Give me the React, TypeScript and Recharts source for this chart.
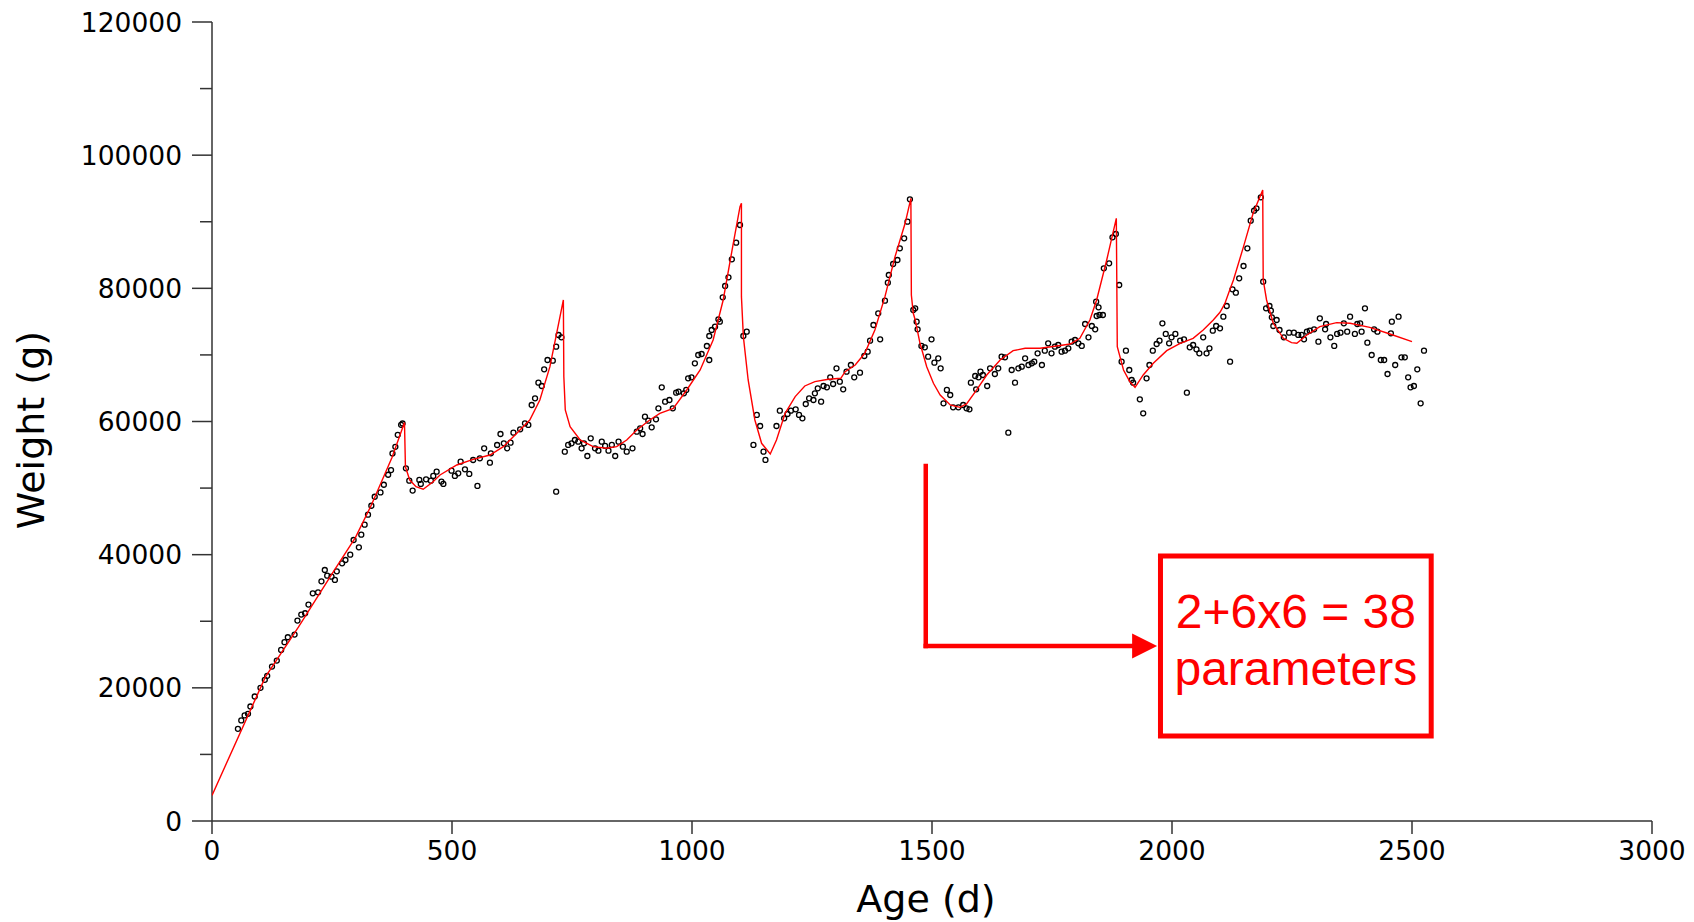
import React from 'react';
import {
  ScatterChart,
  Scatter,
  XAxis,
  YAxis,
  ReferenceLine,
  ReferenceArea,
  ReferenceDot,
} from 'recharts';

// ---------- Observed weights (open circles) ----------
const obsAge: number[] = [
  54, 61, 68, 75, 80, 89, 101, 110, 115, 125, 135, 144, 151, 158, 172, 178, 186, 194, 201, 210,
  221, 228, 235, 240, 249, 256, 260, 271, 278, 288, 295, 306, 311, 318, 325, 332, 339, 351, 358, 367,
  373, 376, 382, 387, 394, 397,
  404, 411, 418, 432, 435, 446, 456, 461, 468, 478, 482, 499, 506, 513, 518, 527, 536, 544, 553, 558,
  567, 579, 581, 594, 601, 608, 615, 622, 628, 642, 652, 659, 666, 673, 680, 687, 692, 699, 710, 717,
  722, 728, 717,
  735, 742, 749, 756, 763, 770, 775, 782, 789, 798, 805, 812, 819, 826, 833, 840, 847, 856, 864, 876,
  885, 892, 897, 902, 909, 916, 925, 930, 937, 944, 953, 960, 967, 972, 983, 988, 992, 999, 1006, 1013,
  1020, 1031, 1036, 1036, 1041, 1048, 1055, 1058, 1064, 1069, 1076, 1083, 1092, 1100,
  1107, 1114, 1128, 1135, 1142, 1149, 1153, 1176, 1183, 1192, 1199, 1206, 1216, 1223, 1230, 1237, 1244, 1253, 1256, 1262,
  1269, 1274, 1281, 1288, 1294, 1301, 1308, 1315, 1322, 1331, 1338, 1350, 1359, 1366, 1371, 1378, 1388, 1392, 1402, 1408,
  1410, 1419, 1428, 1433, 1442, 1449, 1454, 1461, 1465, 1468, 1470, 1478, 1485, 1492, 1499, 1505,
  1513, 1518, 1524, 1531, 1538, 1544, 1555, 1565, 1572, 1578, 1581, 1590, 1592, 1597, 1601, 1606, 1615, 1621, 1631, 1638,
  1645, 1652, 1659, 1666, 1673, 1680, 1687, 1694, 1701, 1708, 1713, 1720, 1729, 1735, 1742, 1749, 1756, 1763, 1770, 1777,
  1784, 1791, 1798, 1805, 1812, 1819, 1826, 1833, 1840, 1842, 1843, 1847, 1849, 1856, 1858, 1869, 1876, 1883,
  1890, 1895, 1904, 1911, 1916, 1919, 1933, 1940, 1947, 1953, 1960, 1968, 1974, 1980, 1987, 1994, 1999, 2007, 2017, 2025,
  2031, 2037, 2044, 2051, 2057, 2065, 2072, 2078, 2085, 2092, 2100, 2107, 2114, 2121, 2126, 2133, 2140, 2149, 2157, 2164,
  2171, 2176, 2185, 2190, 2196, 2203, 2206, 2208, 2211, 2218, 2224, 2233, 2244, 2254, 2263, 2270, 2275, 2281, 2287, 2296,
  2305, 2308, 2319, 2321, 2330, 2338, 2344, 2351, 2358, 2365, 2371, 2381, 2386, 2392, 2395, 2402, 2407, 2416, 2421, 2428,
  2435, 2442, 2449, 2456, 2458, 2465, 2472, 2478, 2485, 2492, 2497, 2504, 2511, 2518, 2525,
];

const obsWeight: number[] = [
  13850, 15100, 15850, 16100, 17200, 18700, 20000, 21200, 21800, 23200, 24100, 25700, 26850, 27600, 28000, 30100, 31000, 31200, 32500, 34200,
  34350, 36000, 37700, 36850, 36700, 36200, 37500, 38700, 39200, 40000, 42200, 41100, 43000, 44500, 46000, 47350, 48700, 49350, 50500, 52000,
  52700, 55200, 56200, 58000, 59500, 59700,
  52970, 51120, 49620, 51220, 50620, 51320, 51120, 51820, 52470, 50970, 50620, 52620, 51820, 52220, 53970, 52820, 52120, 54220, 50320, 54470,
  55970, 53820, 55220, 56470, 58120, 56720, 55970, 56820, 58320, 58830, 59730, 59480, 62480, 63480, 65830, 65330, 67840, 69240, 69140, 71240,
  72990, 72640, 49460,
  55470, 56475, 56725, 57225, 56975, 55975, 56725, 54820, 57475, 55975, 55620, 56975, 56325, 55620, 56475, 54820, 56975, 56225, 55470, 55970,
  58475, 58975, 58125, 60730, 60130, 59125, 60330, 61980, 65135, 62980, 63230, 61980, 64335, 64485, 64235, 64735, 66485, 66635, 68740, 69990,
  70140, 71340, 69240, 72844, 73745, 74245, 75345, 74995, 78650, 80352, 81655, 84360, 86860, 89515,
  72844, 73494, 56475, 60980, 59327, 55474, 54222, 59327, 61630, 60480, 61130, 61630, 61830, 60980, 60480, 62630, 63480, 63230, 64235, 64985,
  62980, 65335, 65135, 66635, 65635, 67987, 65985, 64835, 67487, 68488, 66635, 67337, 69840, 70490, 72144, 74496, 76248, 72344, 78150, 80854,
  82004, 83657, 84257, 86010, 87511, 90015, 93368, 76749, 76999, 74997, 73845, 71343, 71143, 69741, 72344, 68840,
  69490, 67987, 62730, 64735, 63982, 62130, 62130, 62480, 61980, 61830, 65835, 66836, 64835, 66636, 67487, 66986, 65335, 67987, 67136, 67987,
  69740, 69640, 58326, 67737, 65835, 67987, 68238, 69490, 68488, 68738, 68988, 70240, 68488, 70640, 71743, 70240, 71243, 71493, 70490, 70640,
  70991, 71993, 72243, 71743, 71343, 74646, 72644, 74346, 73845, 77999, 75847, 77148, 75997, 75997, 83006, 83757, 87661, 88162,
  80503, 68990, 70640, 67737, 66236, 65835, 63330, 61230, 66486, 68488, 70640, 71643, 72144, 74747, 73146, 71743, 72644, 73146, 72144, 72344,
  64335, 71143, 71493, 70841, 70240, 72644, 70240, 70991, 73645, 74346, 73995, 75748, 77349, 68989, 79852, 79352, 81505, 83357, 86010, 90165,
  91667, 92017, 93669, 81004, 76999, 77349, 76649, 75647, 74346, 75246, 73745, 72644, 73345, 73345, 72995, 72995, 72344, 73495, 73645, 73845,
  71993, 75497, 73845, 74646, 72644, 71343, 73146, 73345, 74747, 73495, 75748, 73146, 74646, 74747, 73495, 76999, 71843, 69990, 73845, 73495,
  69239, 69239, 67137, 73245, 74997, 68488, 75748, 69640, 69640, 66637, 65135, 65335, 67838, 62731, 70641,
];

// ---------- Fitted model curve (red) ----------
const fitAge: number[] = [
  0, 111, 180, 250, 299, 333, 375, 401, 403, 412, 425, 440, 460, 475, 510, 544, 579, 607, 635, 662,
  683, 704, 718, 732, 733, 736, 746, 767, 794, 822, 843, 864, 885, 912, 933, 961, 989, 1017, 1044, 1065,
  1086, 1100, 1103, 1103, 1107, 1117, 1131, 1145, 1163, 1176, 1194, 1215, 1235, 1256, 1284, 1310, 1319, 1340, 1360, 1381,
  1402, 1423, 1444, 1456, 1457, 1461, 1465, 1475, 1489, 1503, 1517, 1538, 1558, 1572, 1593, 1614, 1642, 1669, 1694, 1725,
  1760, 1788, 1808, 1829, 1843, 1864, 1884, 1886, 1899, 1912, 1923, 1940, 1961, 1989, 2017, 2044, 2065, 2086, 2100, 2110,
  2118, 2128, 2149, 2169, 2189, 2190, 2197, 2211, 2232, 2249, 2260, 2281, 2308, 2343, 2371, 2412, 2454, 2500,
];

const fitWeight: number[] = [
  3850, 21600, 29100, 37100, 42600, 47600, 54600, 59850, 53200, 51200, 50200, 49820, 50900, 51970, 53470, 54320, 54970, 56220, 58220, 60230,
  63230, 68240, 73240, 78250, 66730, 61730, 59230, 57225, 56225, 55975, 56225, 57225, 58730, 60230, 61230, 61980, 64735, 67735, 72245, 78250,
  86760, 92267, 92768, 78750, 72745, 66236, 60228, 56725, 55124, 57225, 61230, 63733, 65335, 65986, 66336, 66486, 67487, 68488, 70240, 73745,
  78750, 84758, 89764, 93519, 79000, 76249, 75247, 71743, 68238, 65735, 63982, 62480, 62130, 62630, 64735, 66986, 69240, 70640, 70991, 70991,
  71341, 71641, 72495, 75247, 78250, 84258, 90515, 71242, 67737, 65986, 65135, 66987, 68740, 70641, 71743, 72494, 73745, 75247, 76400, 77700,
  79300, 81254, 86260, 91266, 94770, 81254, 78250, 74746, 72494, 71843, 71743, 72995, 74246, 74846, 74746, 74146, 73145, 71993,
];

// ---------- Axis ticks ----------
const xTicks: number[] = [0, 500, 1000, 1500, 2000, 2500, 3000];
const yTicks: number[] = [0, 10000, 20000, 30000, 40000, 50000, 60000, 70000, 80000, 90000, 100000, 110000, 120000];
const yLabelStep = 20000;

// ---------- Annotation ----------
const annotationLines: string[] = ['2+6x6 = 38', 'parameters'];
const arrowStart = { x: 1487, y: 53300 };
const arrowCorner = { x: 1487, y: 26283 };
const arrowTip = { x: 1969, y: 26283 };
const box = { x1: 1976, x2: 2540, y1: 12766, y2: 39800 };

const obsData = obsAge.map((a, i) => ({ age: a, w: obsWeight[i] }));
const fitData = fitAge.map((a, i) => ({ age: a, w: fitWeight[i] }));

const RED = '#ff0000';
const AXIS = '#333333';
const TICK_FONT = '"DejaVu Sans", Verdana, sans-serif';
const Y_TICK_SIZE = 20;
const Y_TICK_MARGIN = 10;
const ARROW_LEN = 25;
const ARROW_HALF = 12.5;

const YTick = (props: any) => {
  const { x, y, payload } = props;
  const axisX = x + Y_TICK_SIZE + Y_TICK_MARGIN;
  const major = payload.value % yLabelStep === 0;
  const len = major ? Y_TICK_SIZE : 12;
  return (
    <g>
      <line x1={axisX - len} x2={axisX} y1={y} y2={y} stroke={AXIS} strokeWidth={1.5} />
      {major && (
        <text x={x} y={y} dy="0.36em" textAnchor="end" fontFamily={TICK_FONT} fontSize={26.5} fill="#000">
          {payload.value}
        </text>
      )}
    </g>
  );
};

const XTick = (props: any) => {
  const { x, y, payload } = props;
  return (
    <text x={x} y={y} dy="0.74em" textAnchor="middle" fontFamily={TICK_FONT} fontSize={26.5} fill="#000">
      {payload.value}
    </text>
  );
};

const Circle = (props: any) => (
  <circle cx={props.cx} cy={props.cy} r={2.5} fill="none" stroke="#000" strokeWidth={1.3} />
);

const NoShape = () => <g />;

const Arrowhead = (props: any) => {
  const { cx, cy } = props;
  return (
    <polygon
      points={`${cx},${cy} ${cx - ARROW_LEN},${cy - ARROW_HALF} ${cx - ARROW_LEN},${cy + ARROW_HALF}`}
      fill={RED}
    />
  );
};

const BoxText = (props: any) => {
  const vb = props.viewBox || {};
  const cx = vb.x + vb.width / 2;
  return (
    <g>
      <text x={cx} y={vb.y + 72} textAnchor="middle" fontFamily='"Liberation Sans", Arial, sans-serif' fontSize={48} fill={RED}>
        {annotationLines[0]}
      </text>
      <text x={cx} y={vb.y + 129} textAnchor="middle" fontFamily='"Liberation Sans", Arial, sans-serif' fontSize={48} fill={RED}>
        {annotationLines[1]}
      </text>
    </g>
  );
};

const XTitle = (props: any) => {
  const vb = props.viewBox || {};
  return (
    <text x={vb.x + vb.width / 2 - 6} y={vb.y + 91} textAnchor="middle" fontFamily={TICK_FONT} fontSize={38} fill="#000">
      Age (d)
    </text>
  );
};

const YTitle = (props: any) => {
  const vb = props.viewBox || {};
  const cy = vb.y + vb.height / 2 + 8.5;
  const tx = 44;
  return (
    <text
      x={tx}
      y={cy}
      textAnchor="middle"
      transform={`rotate(-90, ${tx}, ${cy})`}
      fontFamily={TICK_FONT}
      fontSize={38}
      fill="#000"
    >
      Weight (g)
    </text>
  );
};

export default function App() {
  return (
    <div style={{ position: 'absolute', left: 0, top: 0, width: 1694, height: 922, background: '#fff' }}>
      <ScatterChart width={1694} height={922} margin={{ top: 22, right: 42, bottom: 0, left: 0 }}>
        <XAxis
          type="number"
          dataKey="age"
          domain={[0, 3000]}
          ticks={xTicks}
          interval={0}
          height={101}
          stroke={AXIS}
          strokeWidth={1.5}
          tickSize={13}
          tickMargin={6}
          tick={<XTick />}
          label={{ content: (p: any) => <XTitle {...p} /> }}
          allowDataOverflow
        />
        <YAxis
          type="number"
          dataKey="w"
          domain={[0, 120000]}
          ticks={yTicks}
          interval={0}
          width={212}
          stroke={AXIS}
          strokeWidth={1.5}
          tickLine={false}
          tickSize={Y_TICK_SIZE}
          tickMargin={Y_TICK_MARGIN}
          tick={<YTick />}
          label={{ content: (p: any) => <YTitle {...p} /> }}
          allowDataOverflow
        />
        <Scatter data={obsData} shape={<Circle />} isAnimationActive={false} />
        <Scatter
          data={fitData}
          shape={<NoShape />}
          line={{ stroke: RED, strokeWidth: 1.4 }}
          lineType="joint"
          isAnimationActive={false}
        />
        <ReferenceLine
          segment={[arrowStart, arrowCorner]}
          stroke={RED}
          strokeWidth={4.5}
          strokeLinecap="square"
        />
        <ReferenceLine
          segment={[arrowCorner, { x: arrowTip.x - 50, y: arrowTip.y }]}
          stroke={RED}
          strokeWidth={4.5}
          strokeLinecap="square"
        />
        <ReferenceDot x={arrowTip.x} y={arrowTip.y} r={10} shape={<Arrowhead />} />
        <ReferenceArea
          x1={box.x1}
          x2={box.x2}
          y1={box.y1}
          y2={box.y2}
          fill="none"
          fillOpacity={0}
          stroke={RED}
          strokeWidth={5}
          label={{ content: (p: any) => <BoxText {...p} /> }}
        />
      </ScatterChart>
    </div>
  );
}
